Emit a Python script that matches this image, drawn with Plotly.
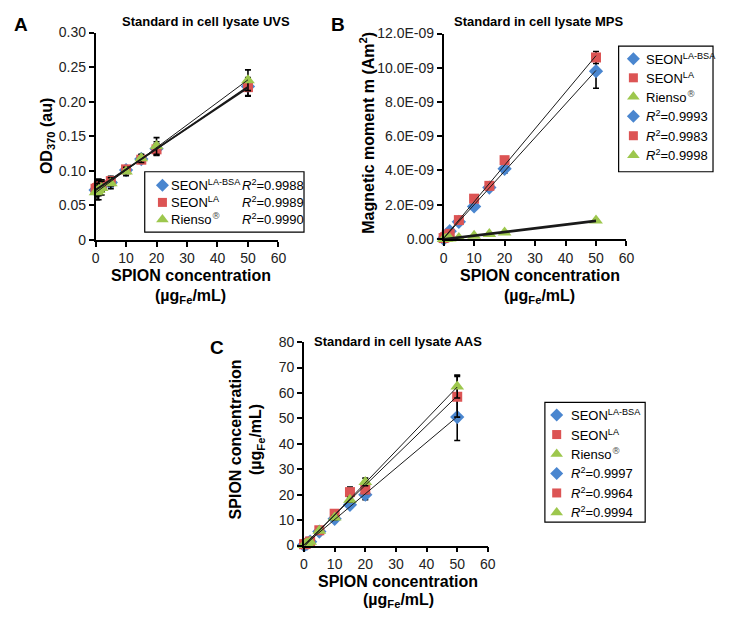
import numpy as np
import plotly.graph_objects as go

# ---------------- data ----------------
conc = [0, 0.5, 1, 2, 5, 10, 15, 20, 50]

# Panel A: UVS, OD370 (au)
uvs_seon_la_bsa = [0.072, 0.074, 0.076, 0.078, 0.083, 0.101, 0.117, 0.132, 0.222]
uvs_seon_la_bsa_err = [0.006, 0.010, 0.012, 0.008, 0.006, 0.005, 0.005, 0.010, 0.013]
uvs_seon_la = [0.074, 0.075, 0.077, 0.079, 0.085, 0.102, 0.116, 0.131, 0.221]
uvs_seon_la_err = [0.004, 0.008, 0.010, 0.008, 0.007, 0.005, 0.005, 0.008, 0.013]
uvs_rienso = [0.069, 0.070, 0.072, 0.075, 0.082, 0.099, 0.118, 0.136, 0.231]
uvs_rienso_err = [0.006, 0.012, 0.014, 0.010, 0.008, 0.006, 0.006, 0.012, 0.015]
uvs_r2 = ["0.9988", "0.9989", "0.9990"]

# Panel B: MPS, magnetic moment (1e-9 Am^2)
mps_seon_la_bsa = [0.00, 0.10, 0.25, 0.45, 1.00, 1.90, 3.00, 4.10, 9.80]
mps_seon_la_bsa_err = [0.02, 0.05, 0.05, 0.05, 0.10, 0.10, 0.15, 0.25, 1.00]
mps_seon_la = [0.05, 0.10, 0.20, 0.30, 1.10, 2.35, 3.10, 4.60, 10.60]
mps_seon_la_err = [0.05, 0.05, 0.05, 0.05, 0.10, 0.15, 0.15, 0.20, 0.35]
mps_rienso = [0.00, 0.00, 0.01, 0.02, 0.05, 0.18, 0.28, 0.38, 1.07]
mps_rienso_err = [0.01, 0.01, 0.01, 0.01, 0.02, 0.03, 0.03, 0.04, 0.08]
mps_r2 = ["0.9993", "0.9983", "0.9998"]
mps_tickvals = [0, 2, 4, 6, 8, 10, 12]
mps_ticktext = ["0.00", "2.0E-09", "4.0E-09", "6.0E-09", "8.0E-09", "10.0E-09", "12.0E-09"]

# Panel C: AAS, SPION concentration (ugFe/mL)
aas_seon_la_bsa = [0.2, 0.5, 0.8, 1.5, 5.5, 10.5, 16.0, 20.0, 50.5]
aas_seon_la_bsa_err = [0.2, 0.3, 0.3, 0.4, 0.5, 0.8, 1.2, 2.0, 9.2]
aas_seon_la = [0.5, 0.6, 1.0, 1.6, 6.0, 12.5, 21.0, 22.0, 58.5]
aas_seon_la_err = [0.3, 0.3, 0.3, 0.4, 0.6, 0.8, 2.0, 1.5, 8.0]
aas_rienso = [0.2, 0.5, 0.9, 1.5, 5.8, 11.0, 18.0, 25.0, 62.5]
aas_rienso_err = [0.2, 0.3, 0.3, 0.4, 0.5, 0.8, 1.0, 1.5, 4.5]
aas_r2 = ["0.9997", "0.9964", "0.9994"]

series_names = ["SEON<sup>LA-BSA</sup>", "SEON<sup>LA</sup>",
                "Rienso<sup><span style=\"font-family:DejaVu Sans;color:#555\">\u00ae</span></sup>"]

# ---------------- style ----------------
# The page keeps the browser's 8 px body margin, so the figure is 16 px smaller
# than the 730x617 window and every reference pixel is offset by 8.
PAGE_W, PAGE_H, OFF = 730, 617, 8
W, H = PAGE_W - 2 * OFF, PAGE_H - 2 * OFF
FONT = "Liberation Sans, Arial, Helvetica, sans-serif"
colors = ["#4a86cf", "#dc5454", "#9dc74d"]
symbols = ["diamond", "square", "triangle-up"]
msizes = [11, 10, 12]


def px(x):
    return (x - OFF) / W


def py(y):
    return 1 - (y - OFF) / H


fig = go.Figure()

panels = [
    dict(ax="1", data=[(uvs_seon_la_bsa, uvs_seon_la_bsa_err), (uvs_seon_la, uvs_seon_la_err), (uvs_rienso, uvs_rienso_err)],
         fitw=[1.6, 1.6, 1.0]),
    dict(ax="2", data=[(mps_seon_la_bsa, mps_seon_la_bsa_err), (mps_seon_la, mps_seon_la_err), (mps_rienso, mps_rienso_err)],
         fitw=[1.0, 1.0, 2.6]),
    dict(ax="3", data=[(aas_seon_la_bsa, aas_seon_la_bsa_err), (aas_seon_la, aas_seon_la_err), (aas_rienso, aas_rienso_err)],
         fitw=[1.0, 1.0, 1.0]),
]

for p in panels:
    xa = "x" if p["ax"] == "1" else "x" + p["ax"]
    ya = "y" if p["ax"] == "1" else "y" + p["ax"]
    for i, (vals, errs) in enumerate(p["data"]):
        fig.add_trace(go.Scatter(
            x=conc, y=vals, mode="markers", xaxis=xa, yaxis=ya,
            name=series_names[i], showlegend=False, cliponaxis=False,
            marker=dict(symbol=symbols[i], size=msizes[i], color=colors[i], line=dict(width=0)),
            error_y=dict(type="data", array=errs, color="black", thickness=1.6, width=3),
        ))
    for i, (vals, errs) in enumerate(p["data"]):
        slope, intercept = np.polyfit(conc, vals, 1)
        xf = [min(conc), max(conc)]
        yf = [slope * v + intercept for v in xf]
        fig.add_trace(go.Scatter(
            x=xf, y=yf, mode="lines", xaxis=xa, yaxis=ya, showlegend=False,
            cliponaxis=False, line=dict(color="#1a1a1a", width=p["fitw"][i]),
        ))

# ---------------- axes ----------------
axis_common = dict(showline=True, linecolor="black", linewidth=1.6, ticks="outside",
                   ticklen=5, tickwidth=1.5, tickcolor="black", showgrid=False,
                   zeroline=False, tickfont=dict(family=FONT, size=14, color="#222"),
                   fixedrange=True)

xticks = [0, 10, 20, 30, 40, 50, 60]

fig.update_layout(
    xaxis=dict(domain=[px(93), px(279)], range=[0, 60], anchor="y", tickvals=xticks, **axis_common),
    yaxis=dict(domain=[py(238), py(25)], range=[0, 0.30], anchor="x",
               tickvals=[0, 0.05, 0.10, 0.15, 0.20, 0.25, 0.30],
               ticktext=["0", "0.05", "0.10", "0.15", "0.20", "0.25", "0.30"], **axis_common),
    xaxis2=dict(domain=[px(447), px(633)], range=[0, 60], anchor="y2", tickvals=xticks, **axis_common),
    yaxis2=dict(domain=[py(237), py(26)], range=[0, 12], anchor="x2",
                tickvals=mps_tickvals, ticktext=mps_ticktext, **axis_common),
    xaxis3=dict(domain=[px(305), px(492)], range=[0, 60], anchor="y3", tickvals=xticks, **axis_common),
    yaxis3=dict(domain=[py(552), py(343)], range=[0, 80], anchor="x3",
                tickvals=[0, 10, 20, 30, 40, 50, 60, 70, 80], **axis_common),
    # overlay axes in page-pixel units for the hand-made legend keys
    xaxis4=dict(domain=[0, 1], range=[OFF, OFF + W], visible=False, anchor="y4", fixedrange=True),
    yaxis4=dict(domain=[0, 1], range=[OFF + H, OFF], visible=False, anchor="x4", fixedrange=True),
)

annotations = []
shapes = []


def txt(x, y, text, size, bold=False, xanchor="center", yanchor="middle", angle=0):
    annotations.append(dict(
        x=px(x), y=py(y), xref="paper", yref="paper", text=text, showarrow=False,
        xanchor=xanchor, yanchor=yanchor, textangle=angle,
        font=dict(family=FONT, size=size, color="black", weight="bold" if bold else "normal"),
    ))


# panel letters and titles (the top ones sit just inside the figure edge)
txt(OFF, 17, "A", 19, bold=True, xanchor="left")
txt(340, 17, "B", 19, bold=True)
txt(217, 349, "C", 19, bold=True)
txt(205, 14, "Standard in cell lysate UVS", 13, bold=True)
txt(543, 14, "Standard in cell lysate MPS", 13, bold=True)
txt(401, 342, "Standard in cell lysate AAS", 13, bold=True)

# axis titles (x titles as two separate lines)
xline1 = "SPION concentration"
xline2 = "(µg<sub>Fe</sub>/mL)"
for cx, y1, y2 in [(190, 275, 296), (545, 275, 296), (401, 589, 608)]:
    txt(cx, y1, xline1, 16, bold=True)
    txt(cx, y2, xline2, 16, bold=True)
txt(44, 131, "OD<sub>370</sub> (au)", 16, bold=True, angle=-90)
txt(369, 128, "Magnetic moment m (Am<sup>2</sup>)", 16, bold=True, angle=-90)
txt(247, 443, "SPION concentration<br>(µg<sub>Fe</sub>/mL)", 16, bold=True, angle=-90)


def box(x0, y0, x1, y1):
    shapes.append(dict(type="rect", xref="paper", yref="paper", x0=px(x0), x1=px(x1),
                       y0=py(y1), y1=py(y0), line=dict(color="black", width=1.2),
                       fillcolor="white", layer="below"))


leg_x, leg_y, leg_i = [], [], []

# legend A
box(143, 168, 305, 230)
for i, yy in enumerate([182, 199.5, 217]):
    leg_x.append(161); leg_y.append(yy); leg_i.append(i)
    txt(168, yy, series_names[i], 13, xanchor="left")
    txt(240, yy, "<i>R</i><sup>2</sup>=" + uvs_r2[i], 13, xanchor="left")

# legend B
box(625, 39, 721, 168)
rowsB = [52, 71.5, 91, 111, 131, 151]
for k, yy in enumerate(rowsB):
    i = k % 3
    leg_x.append(640); leg_y.append(yy); leg_i.append(i)
    label = series_names[i] if k < 3 else "<i>R</i><sup>2</sup>=" + mps_r2[i]
    txt(651, yy, label, 13, xanchor="left")

# legend C
box(550, 405, 652, 528)
rowsC = [418, 438, 458, 478, 498, 518]
for k, yy in enumerate(rowsC):
    i = k % 3
    leg_x.append(562); leg_y.append(yy); leg_i.append(i)
    label = series_names[i] if k < 3 else "<i>R</i><sup>2</sup>=" + aas_r2[i]
    txt(575, yy, label, 13, xanchor="left")

for i in range(3):
    xs = [leg_x[j] for j in range(len(leg_i)) if leg_i[j] == i]
    ys = [leg_y[j] for j in range(len(leg_i)) if leg_i[j] == i]
    fig.add_trace(go.Scatter(
        x=xs, y=ys, mode="markers", xaxis="x4", yaxis="y4", showlegend=False,
        cliponaxis=False, hoverinfo="skip",
        marker=dict(symbol=symbols[i], size=[10, 9, 11][i], color=colors[i], line=dict(width=0)),
    ))

fig.update_layout(
    width=W, height=H, margin=dict(l=0, r=0, t=0, b=0),
    paper_bgcolor="white", plot_bgcolor="rgba(0,0,0,0)",
    showlegend=False, annotations=annotations, shapes=shapes,
    font=dict(family=FONT),
)

fig.write_html("out.html", config={"displayModeBar": False})
